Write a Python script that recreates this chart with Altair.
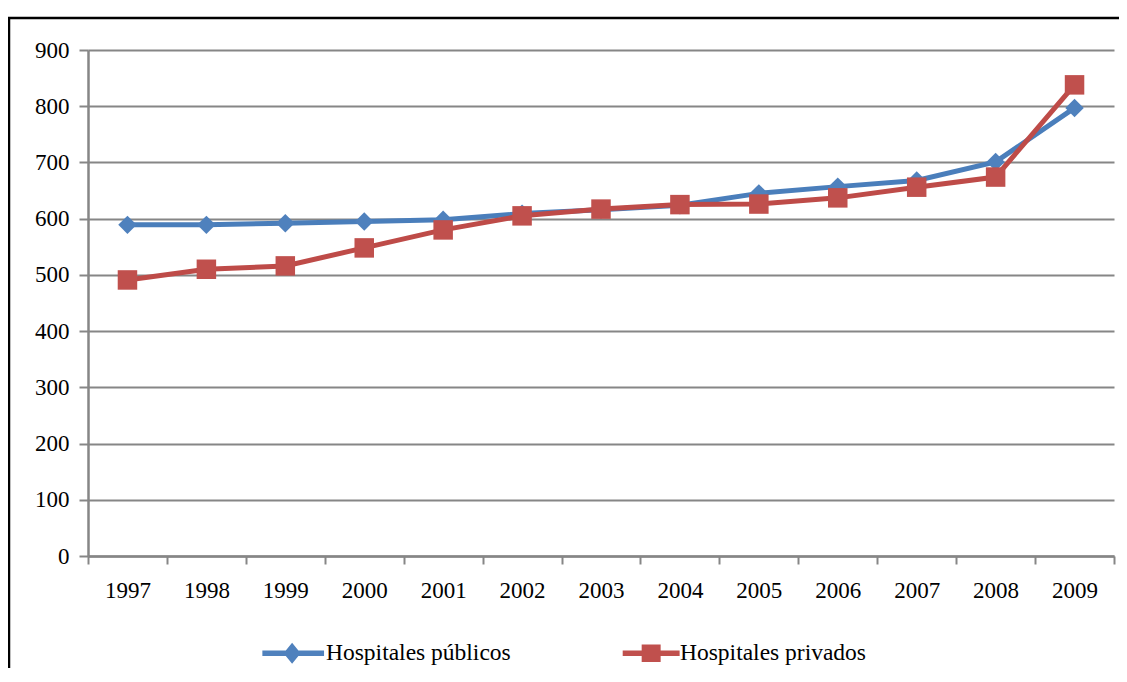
import altair as alt
import pandas as pd

years = [str(y) for y in range(1997, 2010)]
publicos = [589, 589, 592, 595, 598, 609, 616, 624, 645, 657, 668, 701, 797]
privados = [491, 510, 516, 548, 580, 605, 617, 625, 626, 637, 656, 674, 838]
series_names = ["Hospitales públicos", "Hospitales privados"]
line_colors = ["#4A7EBB", "#BE4B48"]
marker_colors = ["#4F81BD", "#C0504D"]
y_ticks = list(range(0, 1000, 100))

rows = []
for name, vals in zip(series_names, [publicos, privados]):
    for yr, v in zip(years, vals):
        rows.append({"year": yr, "serie": name, "valor": v})
df = pd.DataFrame(rows)

FONT = "Liberation Serif"
GRAY = "#868686"

# legend symbol paths: line + marker (unit square coords)
path_pub = ("M-1,-0.09L0.95,-0.09L0.95,0.09L-1,0.09Z"
            "M-0.06,-0.33L0.21,0L-0.06,0.33L-0.33,0Z")
path_priv = ("M-0.8,-0.09L1,-0.09L1,0.09L-0.8,0.09Z"
             "M-0.2,-0.28L0.4,-0.28L0.4,0.28L-0.2,0.28Z")

x_enc = alt.X(
    "year:N", sort=years, title=None,
    scale=alt.Scale(type="band", paddingInner=0, paddingOuter=0),
    axis=alt.Axis(tickBand="extent", labelAngle=0, tickSize=8, tickWidth=2,
                  tickColor=GRAY, domainColor=GRAY, domainWidth=2.5,
                  labelPadding=15, grid=False),
)
y_enc = alt.Y(
    "valor:Q", title=None,
    scale=alt.Scale(domain=[0, 900], nice=False),
    axis=alt.Axis(values=y_ticks, grid=True, gridColor=GRAY, gridWidth=2,
                  tickSize=9, tickWidth=2, tickColor=GRAY, domainColor=GRAY,
                  domainWidth=2.5, labelPadding=10),
)

base = alt.Chart(df)

lines = base.mark_line(strokeWidth=5).encode(
    x=x_enc, y=y_enc,
    color=alt.Color("serie:N", sort=series_names,
                    scale=alt.Scale(domain=series_names, range=line_colors),
                    legend=None),
)

points = base.mark_point(filled=True, opacity=1).encode(
    x=x_enc, y=y_enc,
    color=alt.Color("serie:N", sort=series_names,
                    scale=alt.Scale(domain=series_names, range=marker_colors),
                    legend=None),
    shape=alt.Shape("serie:N", sort=series_names,
                    scale=alt.Scale(domain=series_names, range=["diamond", "square"]),
                    legend=None),
    size=alt.Size("serie:N", sort=series_names,
                  scale=alt.Scale(domain=series_names, range=[340, 380]),
                  legend=None),
)

leg = alt.Legend(title=None, orient="none", legendX=174, legendY=571,
                 direction="horizontal", symbolSize=4000, symbolOpacity=1,
                 symbolStrokeWidth=0, labelFont=FONT, labelFontSize=23.5,
                 labelColor="black", columnPadding=105, padding=0,
                 labelOffset=0, labelLimit=500)

legend_layer = base.mark_point(filled=True, opacity=0).encode(
    x=x_enc, y=y_enc,
    color=alt.Color("serie:N", sort=series_names,
                    scale=alt.Scale(domain=series_names, range=marker_colors),
                    legend=leg),
    shape=alt.Shape("serie:N", sort=series_names,
                    scale=alt.Scale(domain=series_names, range=[path_pub, path_priv]),
                    legend=leg),
)

border = alt.Chart(pd.DataFrame({"k": [0]})).mark_rect(
    fillOpacity=0, stroke="black", strokeWidth=2.5, clip=False
).encode(
    x=alt.value(-79), x2=alt.value(1100), y=alt.value(-32), y2=alt.value(720)
)

chart = alt.layer(border, lines, points, legend_layer).resolve_scale(
    color="independent", shape="independent", size="independent"
).properties(
    width=1026, height=506,
    autosize="none",
    padding={"left": 80, "top": 42, "right": 5, "bottom": 112},
).configure_view(stroke=None).configure_axis(
    labelFont=FONT, labelFontSize=23, labelColor="black"
)

chart.save("out.html", embed_options={"renderer": "svg", "actions": False})
